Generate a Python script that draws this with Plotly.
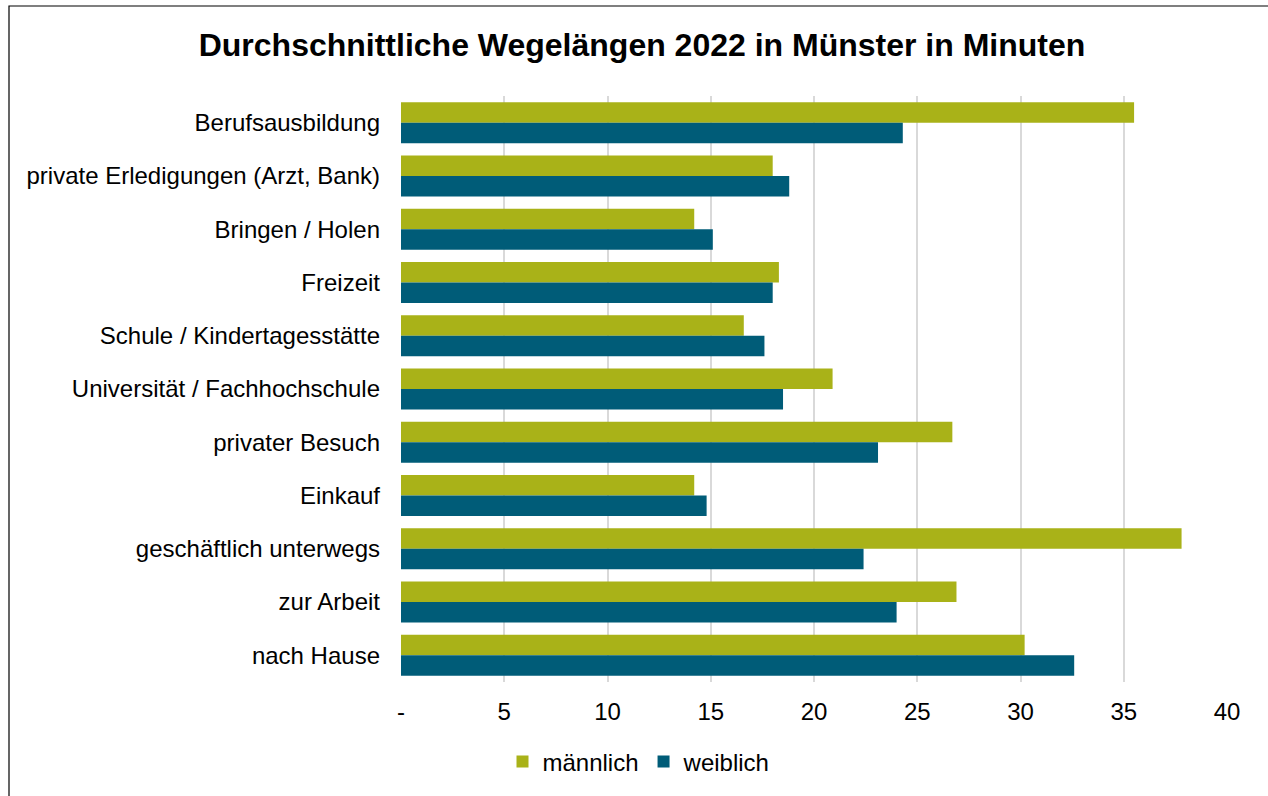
import plotly.graph_objects as go

categories = [
    "Berufsausbildung",
    "private Erledigungen (Arzt, Bank)",
    "Bringen / Holen",
    "Freizeit",
    "Schule / Kindertagesstätte",
    "Universität / Fachhochschule",
    "privater Besuch",
    "Einkauf",
    "geschäftlich unterwegs",
    "zur Arbeit",
    "nach Hause",
]
maennlich = [35.5, 18.0, 14.2, 18.3, 16.6, 20.9, 26.7, 14.2, 37.8, 26.9, 30.2]
weiblich = [24.3, 18.8, 15.1, 18.0, 17.6, 18.5, 23.1, 14.8, 22.4, 24.0, 32.6]

tick_vals = [0, 5, 10, 15, 20, 25, 30, 35, 40]
tick_text = ["-", "5", "10", "15", "20", "25", "30", "35", "40"]

FONT = "Liberation Sans, Arial, sans-serif"

fig = go.Figure()
fig.add_trace(go.Bar(y=categories, x=maennlich, name="männlich", orientation="h",
                     marker=dict(color="#A9B218", line=dict(width=0))))
fig.add_trace(go.Bar(y=categories, x=weiblich, name="weiblich", orientation="h",
                     marker=dict(color="#005C78", line=dict(width=0))))

L, R, T, B = 401, 41, 96, 114
W, H = 1268, 796
pw = W - L - R
ph = H - T - B

def px_x(p):
    return (p - L) / pw

def px_y(p):
    return (H - B - p) / ph

fig.update_layout(
    width=W, height=H, autosize=False,
    margin=dict(l=L, r=R, t=T, b=B, pad=0, autoexpand=False),
    paper_bgcolor="white", plot_bgcolor="white",
    barmode="group", bargap=0.23, bargroupgap=0,
    font=dict(family=FONT, size=24, color="#000000"),
    title=dict(text="<b>Durchschnittliche Wegelängen 2022 in Münster in Minuten</b>",
               x=0.5 + 8 / W, xref="container", xanchor="center",
               y=1 - 45 / H, yref="container", yanchor="middle",
               font=dict(family=FONT, size=32, color="#000000")),
    xaxis=dict(range=[0, 40], tickvals=tick_vals, ticktext=tick_text,
               showgrid=True, gridcolor="#D9D9D9", gridwidth=1.5,
               zeroline=False, showline=False, ticks="", automargin=False,
               tickangle=0, ticklabelstandoff=13,
               tickfont=dict(family=FONT, size=24, color="#000000")),
    yaxis=dict(autorange="reversed", showgrid=False, zeroline=False,
               showline=False, ticks="", automargin=False, ticklabelstandoff=20,
               tickfont=dict(family=FONT, size=24, color="#000000")),
    legend=dict(orientation="h", x=0.5 + 5 / W, xref="container", xanchor="center",
                y=px_y(762), yanchor="middle", traceorder="normal",
                font=dict(family=FONT, size=24, color="#000000"),
                itemwidth=30, tracegroupgap=0),
    shapes=[dict(type="rect", xref="paper", yref="paper",
                 x0=px_x(9), x1=px_x(1290), y0=px_y(815), y1=px_y(6),
                 line=dict(color="#000000", width=1.2), fillcolor="rgba(0,0,0,0)",
                 layer="above")],
)

fig.write_html("out.html", config={"displayModeBar": False},
               post_script="document.body.style.margin='0';document.body.style.overflow='hidden';")
